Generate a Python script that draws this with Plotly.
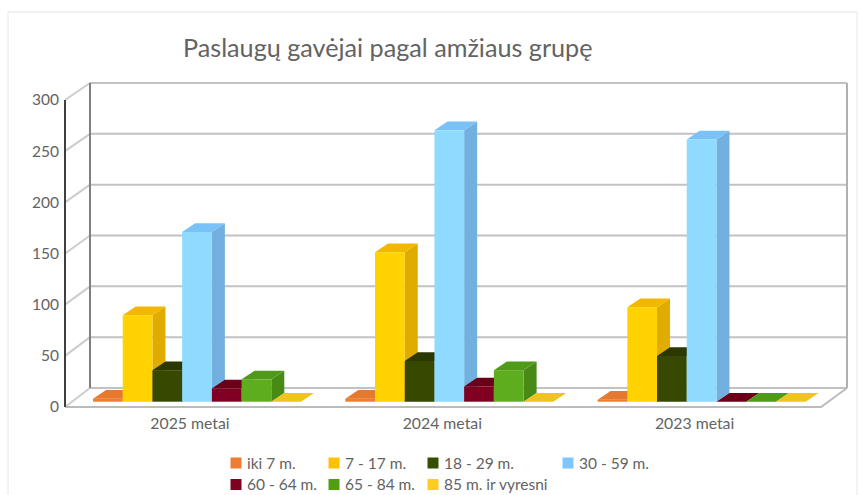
import plotly.graph_objects as go

# ---- data ----
title_text = "Paslaugų gavėjai pagal amžiaus grupę"
years = ["2025 metai", "2024 metai", "2023 metai"]
series_names = ["iki 7 m.", "7 - 17 m.", "18 - 29 m.", "30 - 59 m.", "60 - 64 m.", "65 - 84 m.", "85 m. ir vyresni"]
iki_7 = [3, 3, 2]
m_7_17 = [85, 147, 93]
m_18_29 = [31, 40, 45]
m_30_59 = [167, 267, 258]
m_60_64 = [13, 15, 0]
m_65_84 = [22, 31, 0]
m_85 = [0, 0, 0]
series_values = [iki_7, m_7_17, m_18_29, m_30_59, m_60_64, m_65_84, m_85]
y_ticks = [0, 50, 100, 150, 200, 250, 300]

# ---- styles ----
front_colors = ["#ED7D31", "#FFD200", "#374800", "#8EDBFF", "#7F0020", "#5EAD1E", "#F5CB25"]
top_colors = ["#E57A2F", "#F2B800", "#2B3800", "#78C2F8", "#6B0018", "#4F9A18", "#F0C41F"]
side_colors = ["#C96A28", "#E0AC00", "#232E00", "#72B0E0", "#5A0014", "#478A15", "#D9B01A"]
legend_colors = ["#ED7D31", "#FFC000", "#375000", "#7FC6FF", "#7F0020", "#4F9F10", "#FFCC20"]
legend_pos = [(236, 463), (334, 463), (433, 463), (568, 463), (236, 484.5), (334, 484.5), (433, 484.5)]
TEXT = "#636363"
FONT = "Lato"
W, H = 860, 495
PL, PR, PT, PB = 60, 852, 78, 412      # plot area, px

# x: px <-> category units
GROUP0, STEP = 197.0, 252.3
xpx = lambda px: (px - GROUP0) / STEP
# y: the bar plane scale, and the front-axis scale
BASE_PX, SCALE = 401.7, 305 / 300
FRONT0_PX, FSCALE = 407.0, 307 / 300
ypx = lambda px: (BASE_PX - px) / SCALE
yr = [ypx(PB), ypx(PT)]
y3r = [(FRONT0_PX - PB) / FSCALE, (FRONT0_PX - PT) / FSCALE]

GROUP_W = 208 / STEP
BAR_W = GROUP_W / 7
DX = 13 / STEP
DY = 8.7 / SCALE

fig = go.Figure()


def line(xs, ys, color, width, yaxis="y"):
    fig.add_trace(go.Scatter(x=xs, y=ys, mode="lines", yaxis=yaxis, showlegend=False, hoverinfo="skip",
                             line=dict(color=color, width=width), cliponaxis=False))


# frame: back wall, left wall, floor
GRID = "#C2C2C2"
back = lambda v: v * 305 / 300 / SCALE + ypx(388)
front = lambda v: v * 307 / 300 / SCALE + ypx(407)
FX, BX, FRX, BRX = xpx(65), xpx(90), xpx(821), xpx(847)
for t in y_ticks:
    line([BX, BRX], [back(t), back(t)], GRID, 2)
    line([FX, BX], [front(t), back(t)], "#CCCCCC", 2)
line([FX, FRX, BRX], [front(0), front(0), back(0)], "#BBBBBB", 2)
line([BRX, BRX], [back(0), back(300)], "#B0B0B0", 2)
line([BX, BX], [back(0), back(300)], "#7F7F7F", 2)

# depth faces of each bar, from the values
for k, vals in enumerate(series_values):
    sx, sy, tx, ty = [], [], [], []
    for i, v in enumerate(vals):
        x0 = i - GROUP_W / 2 + k * BAR_W
        x1 = x0 + BAR_W
        sx += [x1, x1 + DX, x1 + DX, x1, x1, None]
        sy += [0, DY, v + DY, v, 0, None]
        tx += [x0, x0 + DX, x1 + DX, x1, x0, None]
        ty += [v, v + DY, v + DY, v, v, None]
    fig.add_trace(go.Scatter(x=sx, y=sy, mode="lines", fill="toself", fillcolor=side_colors[k], line=dict(width=0),
                             showlegend=False, hoverinfo="skip"))
    fig.add_trace(go.Scatter(x=tx, y=ty, mode="lines", fill="toself", fillcolor=top_colors[k], line=dict(width=0),
                             showlegend=False, hoverinfo="skip"))

# front faces
for k, vals in enumerate(series_values):
    fig.add_trace(go.Bar(x=[0, 1, 2], y=vals, name=series_names[k], yaxis="y2",
                         marker=dict(color=front_colors[k], line=dict(width=0)), showlegend=False))

# front axis line, carrying the value labels
line([FX, FX], [0, 300], "#404040", 2, yaxis="y3")

# manual legend (irregular columns, as in the reference)
shapes = []
annotations = []
for (lx, ly), name, c in zip(legend_pos, series_names, legend_colors):
    shapes.append(dict(type="rect", xref="paper", yref="paper",
                       x0=(lx - 5.5 - PL) / (PR - PL), x1=(lx + 5.5 - PL) / (PR - PL),
                       y0=(PB - ly - 5.5) / (PB - PT), y1=(PB - ly + 5.5) / (PB - PT),
                       fillcolor=c, line=dict(width=0)))
    annotations.append(dict(text=name, xref="paper", yref="paper", showarrow=False,
                            x=(lx + 9 - PL) / (PR - PL), y=(PB - ly) / (PB - PT),
                            xanchor="left", yanchor="middle", font=dict(family=FONT, size=15.5, color=TEXT)))

# chart border
for x0, y0, x1, y1 in [(8, 12, 8, 495), (8, 12, 857, 12), (857, 12, 857, 495)]:
    shapes.append(dict(type="line", xref="paper", yref="paper",
                       x0=(x0 - PL) / (PR - PL), x1=(x1 - PL) / (PR - PL),
                       y0=(PB - y0) / (PB - PT), y1=(PB - y1) / (PB - PT),
                       line=dict(color="#E6E6E6", width=1)))

fig.update_layout(
    width=W, height=H, autosize=False,
    margin=dict(l=PL, r=W - PR, t=PT, b=H - PB),
    paper_bgcolor="white", plot_bgcolor="white",
    barmode="group", bargap=1 - GROUP_W, bargroupgap=0,
    font=dict(family=FONT, color=TEXT),
    title=dict(text=title_text, x=183 / W, xanchor="left", y=1 - 48 / H, yanchor="middle",
               font=dict(family=FONT, size=25.2, color=TEXT)),
    shapes=shapes, annotations=annotations, showlegend=False,
    xaxis=dict(range=[xpx(PL), xpx(PR)], tickmode="array",
               tickvals=[i - 7 / STEP for i in range(len(years))], ticktext=years,
               showgrid=False, zeroline=False, showline=False, ticks="",
               tickfont=dict(family=FONT, size=15.8, color=TEXT)),
    yaxis=dict(range=yr, visible=False, fixedrange=True),
    yaxis2=dict(range=yr, visible=False, overlaying="y"),
    yaxis3=dict(range=y3r, overlaying="y", side="left", tickmode="array", tickvals=y_ticks,
                showgrid=False, zeroline=False, showline=False, ticks="",
                tickfont=dict(family=FONT, size=15.5, color=TEXT)),
)

fig.write_html("out.html", config={"displayModeBar": False},
               post_script="document.body.style.margin='0';document.body.style.overflow='hidden';")
